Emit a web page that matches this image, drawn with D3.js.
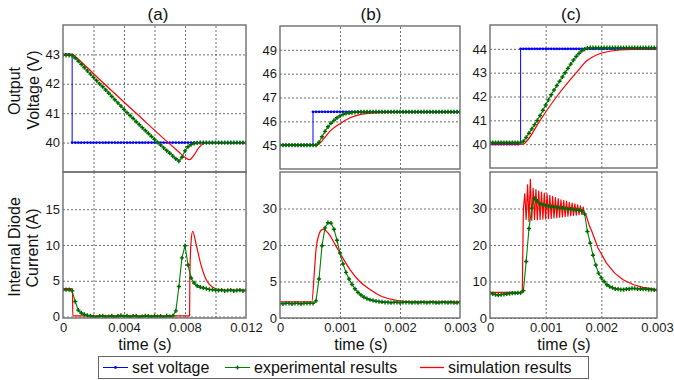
<!DOCTYPE html>
<html><head><meta charset="utf-8">
<script src="https://cdn.jsdelivr.net/npm/d3@7"></script>
<style>
body{margin:0;background:#fff;}
svg{display:block;font-family:"Liberation Sans",Arial,sans-serif;}
</style></head><body>
<svg id="chart" width="674" height="380"></svg>
<script>
// ---------- DATA ----------
const panelTitles = ["(a)", "(b)", "(c)"];
const yLabelTop = ["Output", "Voltage (V)"];
const yLabelBottom = ["Internal Diode", "Current (A)"];
const xLabel = "time (s)";
const legendNames = ["set voltage", "experimental results", "simulation results"];

// sample times of the measured / set signals
const tA = [0,0.0002,0.0004,0.0006,0.0008,0.001,0.0012,0.0014,0.0016,0.0018,0.002,0.0022,0.0024,0.0026,0.0028,0.003,0.0032,0.0034,0.0036,0.0038,0.004,0.0042,0.0044,0.0046,0.0048,0.005,0.0052,0.0054,0.0056,0.0058,0.006,0.0062,0.0064,0.0066,0.0068,0.007,0.0072,0.0074,0.0076,0.0078,0.008,0.0082,0.0084,0.0086,0.0088,0.009,0.0092,0.0094,0.0096,0.0098,0.01,0.0102,0.0104,0.0106,0.0108,0.011,0.0112,0.0114,0.0116,0.0118,0.012];
const tBC = [0,0.00005,0.0001,0.00015,0.0002,0.00025,0.0003,0.00035,0.0004,0.00045,0.0005,0.00055,0.0006,0.00065,0.0007,0.00075,0.0008,0.00085,0.0009,0.00095,0.001,0.00105,0.0011,0.00115,0.0012,0.00125,0.0013,0.00135,0.0014,0.00145,0.0015,0.00155,0.0016,0.00165,0.0017,0.00175,0.0018,0.00185,0.0019,0.00195,0.002,0.00205,0.0021,0.00215,0.0022,0.00225,0.0023,0.00235,0.0024,0.00245,0.0025,0.00255,0.0026,0.00265,0.0027,0.00275,0.0028,0.00285,0.0029,0.00295,0.003];

// ---- panel (a)
const setVoltA = [43,43,43,40,40,40,40,40,40,40, 40,40,40,40,40,40,40,40,40,40, 40,40,40,40,40,40,40,40,40,40, 40,40,40,40,40,40,40,40,40,40, 40,40,40,40,40,40,40,40,40,40, 40,40,40,40,40,40,40,40,40,40, 40];
const expVoltA = [42.97,42.97,42.97,42.96,42.88,42.77,42.66,42.55,42.44,42.33, 42.22,42.11,42.0,41.9,41.79,41.68,41.57,41.46,41.35,41.24, 41.13,41.02,40.92,40.82,40.71,40.61,40.51,40.41,40.31,40.21, 40.11,40.01,39.92,39.82,39.73,39.64,39.54,39.45,39.37,39.5, 39.72,39.86,39.93,39.97,39.99,40,40,40,40,40, 40,40,40,40,40,40,40,40,40,40, 40];
const expCurrA = [3.75,3.75,3.75,3.6,2.1,0.9,0.5,0.3,0.15,0.1, 0,-0.1,0.05,0.1,-0.05,0,0.1,-0.1,0.05,0.15, 0,0.1,-0.05,0.05,0.1,-0.1,0,0.1,0.05,-0.05, 0.1,0,0.05,-0.1,0.1,0,0.1,0.8,4.2,8.2, 9.9,7.2,5.4,4.7,4.3,4.1,4.0,3.9,3.8,3.75, 3.7,3.65,3.7,3.6,3.65,3.7,3.6,3.65,3.7,3.6, 3.65];
const simVoltTA = [0,0.00064,0.0008,0.0027,0.0048,0.0069,0.0076,0.008,0.0083,0.0086,0.0089,0.0092,0.0095,0.012];
const simVoltA  = [43,43,42.93,42.0,41.0,40.0,39.68,39.5,39.42,39.58,39.82,39.96,40,40];
const simCurrTA = [0,0.00062,0.00064,0.0083,0.00832,0.0084,0.0085,0.00876,0.009,0.0094,0.00985,0.0103,0.011,0.012];
const simCurrA  = [3.9,3.9,0.1,0.1,6,10.5,11.9,9.8,7.6,5.1,4.05,3.75,3.7,3.7];

// ---- panel (b)
const setVoltB = [45,45,45,45,45,45,45,45,45,45, 45,46.4,46.4,46.4,46.4,46.4,46.4,46.4,46.4,46.4, 46.4,46.4,46.4,46.4,46.4,46.4,46.4,46.4,46.4,46.4, 46.4,46.4,46.4,46.4,46.4,46.4,46.4,46.4,46.4,46.4, 46.4,46.4,46.4,46.4,46.4,46.4,46.4,46.4,46.4,46.4, 46.4,46.4,46.4,46.4,46.4,46.4,46.4,46.4,46.4,46.4, 46.4];
const expVoltB = [45,45,45,45,45,45,45,45,45,45, 45,45,45,45.12,45.35,45.58,45.77,45.92,46.04,46.15, 46.23,46.29,46.33,46.35,46.37,46.38,46.39,46.4,46.4,46.4, 46.4,46.4,46.4,46.4,46.4,46.4,46.4,46.4,46.4,46.4, 46.4,46.4,46.4,46.4,46.4,46.4,46.4,46.4,46.4,46.4, 46.4,46.4,46.4,46.4,46.4,46.4,46.4,46.4,46.4,46.4, 46.4];
const expCurrB = [4.0,3.9,4.0,4.0,3.9,4.0,4.0,3.9,4.0,4.0, 4.0,4.0,4.7,10.7,19.8,24.7,26.1,26.0,24.3,21.3, 17.8,14.8,12.5,10.7,9.2,8.0,7.0,6.3,5.7,5.3, 5.0,4.8,4.6,4.5,4.4,4.3,4.3,4.2,4.3,4.3, 4.2,4.3,4.3,4.3,4.2,4.3,4.2,4.3,4.3,4.2, 4.3,4.3,4.2,4.2,4.3,4.3,4.2,4.3,4.2,4.2, 4.3];
const simVoltTB = [0,0.0006,0.00065,0.00072,0.00083,0.001,0.00117,0.00133,0.00156,0.00183,0.0021,0.003];
const simVoltB  = [45,45,45.05,45.24,45.58,45.9,46.15,46.28,46.35,46.38,46.4,46.4];
const simCurrTB = [0,0.00053,0.00057,0.0006,0.00064,0.0007,0.00073,0.0008,0.00092,0.00103,0.00117,0.00133,0.0015,0.00167,0.00189,0.00211,0.0025,0.003];
const simCurrB  = [4.4,4.4,11.9,18.7,22.4,24.2,24.3,23.3,20.1,16.9,13.2,10.0,7.8,6.1,5.0,4.5,4.4,4.4];

// ---- panel (c)
const setVoltC = [40,40,40,40,40,40,40,40,40,40, 40,44,44,44,44,44,44,44,44,44, 44,44,44,44,44,44,44,44,44,44, 44,44,44,44,44,44,44,44,44,44, 44,44,44,44,44,44,44,44,44,44, 44,44,44,44,44,44,44,44,44,44, 44];
const expVoltC = [40.07,40.07,40.07,40.07,40.07,40.07,40.07,40.07,40.07,40.07, 40.07,40.07,40.12,40.28,40.46,40.64,40.82,41.0,41.2,41.42, 41.64,41.86,42.07,42.27,42.46,42.64,42.82,43.0,43.18,43.36, 43.53,43.68,43.81,43.92,43.99,44.03,44.05,44.05,44.05,44.05, 44.05,44.05,44.05,44.05,44.05,44.05,44.05,44.05,44.05,44.05, 44.05,44.05,44.05,44.05,44.05,44.05,44.05,44.05,44.05,44.05, 44.05];
const expCurrC = [6.8,6.6,6.4,6.3,6.4,6.5,6.6,6.7,6.8,6.8, 6.9,6.9,7.5,15.5,24.5,30.1,32.8,32.0,31.3,31.0, 30.8,30.6,30.5,30.4,30.3,30.2,30.1,30.0,29.9,29.8, 29.7,29.6,29.5,29.3,28.5,23.7,20.5,17.2,14.5,12.3, 11.0,10.0,9.1,8.6,8.3,8.0,7.9,7.8,7.8,7.9, 8.0,8.1,8.1,8.0,8.0,7.9,7.9,7.8,7.8,7.7, 7.7];
const simVoltTC = [0,0.0006,0.00065,0.0009,0.0012,0.00155,0.00174,0.00192,0.00216,0.00246,0.00276,0.003];
const simVoltC  = [40,40,40.1,41,42,43,43.5,43.75,43.9,43.97,44,44];
const simCurrTC = [0,0.00058,0.0006,0.000625,0.00065,0.000675,0.0007,0.000725,0.00075,0.000775,0.0008,0.000825,0.00085,0.000875,0.0009,0.000925,0.00095,0.000975,0.001,0.001025,0.00105,0.001075,0.0011,0.001125,0.00115,0.001175,0.0012,0.001225,0.00125,0.001275,0.0013,0.001325,0.00135,0.001375,0.0014,0.001425,0.00145,0.001475,0.0015,0.001525,0.00155,0.001575,0.0016,0.001625,0.00165,0.001675,0.0017,0.00173,0.00178,0.00183,0.00194,0.00209,0.00224,0.00239,0.00258,0.00275,0.003];
const simCurrC  = [7.0,7.0,30.0,34.0,27.0,36.5,26.5,38.0,26.8,35.5,27.0,35.2,26.9,34.8,27.0,34.5,27.1,34.2,27.1,34.0,27.2,33.6,27.3,33.3,27.4,33.0,27.5,32.7,27.6,32.4,27.7,32.2,27.8,32.0,27.9,31.7,28.0,31.5,28.1,31.3,28.2,31.0,28.3,30.7,28.4,30.4,28.5,28.0,25.5,23.7,19.2,15.1,12.3,10.5,9.1,8.4,7.8];

// ticks
const xTicksA = [0,0.004,0.008,0.012], xTickLabelsA = ["0","0.004","0.008","0.012"], xGridA = [0.002,0.004,0.006,0.008,0.01];
const xTicksBC = [0,0.001,0.002,0.003], xTickLabelsBC = ["0","0.001","0.002","0.003"], xGridBC = [0.001,0.002];
const yTicksATop = [40,41,42,43], yTickLabelsATop = ["40","41","42","43"];
const yTicksABot = [0,5,10,15], yTickLabelsABot = ["0","5","10","15"];
const yTicksBTop = [45,46,47,48,49], yTickLabelsBTop = ["45","46","47","46","49"];
const yTicksBBot = [0,10,20,30], yTickLabelsBBot = ["0","5","20","30"];
const yTicksCTop = [40,41,42,43,44], yTickLabelsCTop = ["40","41","42","43","44"];
const yTicksCBot = [0,10,20,30], yTickLabelsCBot = ["0","10","20","30"];

// ---------- STYLE / LAYOUT ----------
const COL = {set:"#0000ff", exp:"#008000", expMark:"#006a00", sim:"#ff0000"};
const FONT = '"Liberation Sans",Arial,sans-serif';
const svg = d3.select("#chart");
svg.append("rect").attr("width",674).attr("height",380).attr("fill","#fff");

let clipN = 0;
function plot(o){
  const x = d3.scaleLinear().domain(o.xDom).range(o.xr);
  const y = d3.scaleLinear().domain(o.yDom).range([o.yr[1], o.yr[0]]);
  const w = o.xr[1]-o.xr[0], h = o.yr[1]-o.yr[0];
  const id = "clip"+(clipN++);
  svg.append("clipPath").attr("id",id).append("rect")
    .attr("x",o.xr[0]).attr("y",o.yr[0]).attr("width",w).attr("height",h);
  const g = svg.append("g");
  // grid
  const gx = g.append("g").attr("transform",`translate(0,${o.yr[1]})`)
    .call(d3.axisBottom(x).tickValues(o.xGrid).tickSize(-h).tickFormat(""));
  const gy = g.append("g").attr("transform",`translate(${o.xr[0]},0)`)
    .call(d3.axisLeft(y).tickValues(o.yTicks).tickSize(-w).tickFormat(""));
  [gx,gy].forEach(a=>{ a.select(".domain").remove();
    a.selectAll("line").attr("stroke","#4a4a4a").attr("stroke-width",0.8).attr("stroke-dasharray","2,2"); });
  // y labels
  const ya = g.append("g").attr("transform",`translate(${o.xr[0]},0)`)
    .call(d3.axisLeft(y).tickValues(o.yTicks).tickSize(0).tickPadding(3).tickFormat((d,i)=>o.yLabels[i]));
  ya.select(".domain").remove();
  ya.attr("font-family",null).attr("font-size",null);
  ya.selectAll("text").attr("font-family",FONT).attr("font-size",13).attr("fill","#1a1a1a");
  if(o.xTicks){
    const xa = g.append("g").attr("transform",`translate(0,${o.yr[1]})`)
      .call(d3.axisBottom(x).tickValues(o.xTicks).tickSize(0).tickPadding(5).tickFormat((d,i)=>o.xLabels[i]));
    xa.select(".domain").remove();
    xa.attr("font-family",null).attr("font-size",null);
    xa.selectAll("text").attr("font-family",FONT).attr("font-size",13).attr("fill","#1a1a1a");
  }
  // series
  const pg = g.append("g").attr("clip-path",`url(#${id})`);
  o.series.forEach(s=>{
    const pts = s.t.map((t,i)=>[x(t), y(s.v[i])]);
    pg.append("path").attr("d", d3.line().curve(s.curve||d3.curveLinear)(pts))
      .attr("fill","none").attr("stroke",s.color).attr("stroke-width",s.width||1)
      .attr("stroke-linejoin","round");
    if(s.marker==="dot"){
      pg.append("g").selectAll("circle").data(pts).join("circle")
        .attr("cx",d=>d[0]).attr("cy",d=>d[1]).attr("r",s.r||1.2).attr("fill",s.mcolor||s.color);
    } else if(s.marker==="cross"){
      const sym = d3.symbol(d3.symbolCross, s.size||9)();
      pg.append("g").selectAll("path").data(pts).join("path")
        .attr("d",sym).attr("transform",d=>`translate(${d[0]},${d[1]})`).attr("fill",s.mcolor||s.color);
    }
  });
  // border
  g.append("rect").attr("x",o.xr[0]).attr("y",o.yr[0]).attr("width",w).attr("height",h)
    .attr("fill","none").attr("stroke","#6e6e6e").attr("stroke-width",1.4);
}

const L = {
  a:{xr:[63,246], top:[25,172], bot:[172,318], title:158, xlab:145},
  b:{xr:[280,460], top:[26,169], bot:[172,318], title:371, xlab:361},
  c:{xr:[490,657], top:[25,168], bot:[172,318], title:571, xlab:564}
};

function setS(t,v){return {t,v,color:COL.set,width:1,marker:"dot",r:1.4,curve:d3.curveStepAfter};}
function expS(t,v){return {t,v,color:COL.exp,width:1.1,marker:"cross",mcolor:COL.expMark,size:10};}
function simS(t,v,curve){return {t,v,color:COL.sim,width:1.2,curve:curve||d3.curveMonotoneX};}

// (a)
plot({xr:L.a.xr, yr:L.a.top, xDom:[0,0.012], yDom:[39,44], xGrid:xGridA, yTicks:yTicksATop, yLabels:yTickLabelsATop,
  series:[setS(tA,setVoltA), simS(simVoltTA,simVoltA), expS(tA,expVoltA)]});
plot({xr:L.a.xr, yr:L.a.bot, xDom:[0,0.012], yDom:[-0.2,20.2], xGrid:xGridA, yTicks:yTicksABot, yLabels:yTickLabelsABot,
  xTicks:xTicksA, xLabels:xTickLabelsA,
  series:[simS(simCurrTA,simCurrA), expS(tA,expCurrA)]});
// (b)
plot({xr:L.b.xr, yr:L.b.top, xDom:[0,0.003], yDom:[44,50], xGrid:xGridBC, yTicks:yTicksBTop, yLabels:yTickLabelsBTop,
  series:[setS(tBC,setVoltB), simS(simVoltTB,simVoltB), expS(tBC,expVoltB)]});
plot({xr:L.b.xr, yr:L.b.bot, xDom:[0,0.003], yDom:[0,40], xGrid:xGridBC, yTicks:yTicksBBot, yLabels:yTickLabelsBBot,
  xTicks:xTicksBC, xLabels:xTickLabelsBC,
  series:[simS(simCurrTB,simCurrB), expS(tBC,expCurrB)]});
// (c)
plot({xr:L.c.xr, yr:L.c.top, xDom:[0,0.003], yDom:[39,45], xGrid:xGridBC, yTicks:yTicksCTop, yLabels:yTickLabelsCTop,
  series:[setS(tBC,setVoltC), simS(simVoltTC,simVoltC), expS(tBC,expVoltC)]});
plot({xr:L.c.xr, yr:L.c.bot, xDom:[0,0.003], yDom:[0,40], xGrid:xGridBC, yTicks:yTicksCBot, yLabels:yTickLabelsCBot,
  xTicks:xTicksBC, xLabels:xTickLabelsBC,
  series:[simS(simCurrTC,simCurrC,d3.curveLinear), expS(tBC,expCurrC)]});

// titles and axis labels
const txt = (s,x,y,opt={})=>svg.append("text").attr("x",x).attr("y",y).text(s)
  .attr("font-family",FONT).attr("font-size",opt.size||16).attr("fill","#111")
  .attr("text-anchor",opt.anchor||"middle");
[L.a,L.b,L.c].forEach((p,i)=>{ txt(panelTitles[i], p.title, 20, {size:17}); txt(xLabel, p.xlab, 350); });
const rot = (s,x,y)=>svg.append("text").attr("transform",`translate(${x},${y}) rotate(-90)`).text(s)
  .attr("font-family",FONT).attr("font-size",16).attr("fill","#111").attr("text-anchor","middle");
rot(yLabelTop[0],20,91); rot(yLabelTop[1],39,90);
rot(yLabelBottom[0],20,247); rot(yLabelBottom[1],38,248);

// legend
const lg = svg.append("g");
lg.append("rect").attr("x",98.5).attr("y",356.5).attr("width",490).attr("height",22)
  .attr("fill","#fff").attr("stroke","#666").attr("stroke-width",1);
const ly = 367.5;
const legItems = [
  {x1:103,x2:128,tx:132,color:COL.set,mark:"dot"},
  {x1:225,x2:250,tx:254,color:COL.exp,mark:"cross"},
  {x1:420,x2:444,tx:448,color:COL.sim,mark:null}
];
legItems.forEach((it,i)=>{
  lg.append("line").attr("x1",it.x1).attr("x2",it.x2).attr("y1",ly).attr("y2",ly)
    .attr("stroke",it.color).attr("stroke-width",i===2?1.3:1);
  if(it.mark==="dot") lg.append("circle").attr("cx",(it.x1+it.x2)/2).attr("cy",ly).attr("r",1.4).attr("fill",it.color);
  if(it.mark==="cross") lg.append("path").attr("d",d3.symbol(d3.symbolCross,9)())
    .attr("transform",`translate(${(it.x1+it.x2)/2},${ly})`).attr("fill",COL.expMark);
  lg.append("text").attr("x",it.tx).attr("y",373).text(legendNames[i])
    .attr("font-family",FONT).attr("font-size",16).attr("fill","#111");
});
</script>
</body></html>
